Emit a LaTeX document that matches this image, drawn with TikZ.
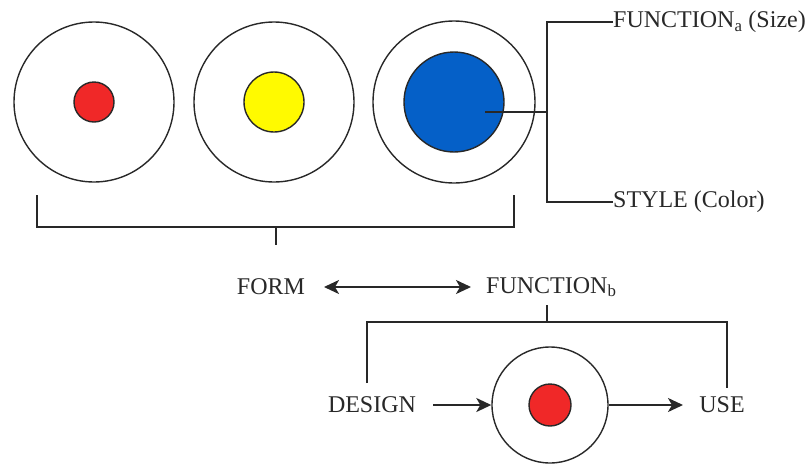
\documentclass[tikz,border=0pt]{standalone}
\usepackage{fontspec}
\setmainfont{Liberation Serif}
\usetikzlibrary{arrows.meta}
\definecolor{cred}{RGB}{240,40,40}
\definecolor{cyellow}{RGB}{255,250,0}
\definecolor{cblue}{RGB}{5,96,200}
\definecolor{cline}{RGB}{40,40,40}
\tikzset{
  outer/.style={circle,draw=cline,line width=1.4pt,fill=white,inner sep=0pt},
  innerdot/.style={circle,draw=cline,line width=1.4pt,inner sep=0pt},
  conn/.style={draw=cline,line width=2pt},
  arr/.style={conn,-{Stealth[length=15pt,width=14pt,inset=4pt]}},
  darr/.style={conn,{Stealth[length=15pt,width=14pt,inset=4pt]}-{Stealth[length=15pt,width=14pt,inset=4pt]}},
  lbl/.style={font=\fontsize{24}{28}\selectfont,inner sep=0pt,text=cline},
}
\begin{document}
\begin{tikzpicture}[x=1pt,y=-1pt]
\useasboundingbox (0,0) rectangle (812,464);
% top circles
\node[outer,minimum size=160pt] (c1) at (94,102) {};
\node[innerdot,fill=cred,minimum size=40pt] (d1) at (94,102) {};
\node[outer,minimum size=160pt] (c2) at (274,102) {};
\node[innerdot,fill=cyellow,minimum size=60pt] (d2) at (274,102) {};
\node[outer,minimum size=162pt] (c3) at (454,102) {};
\node[innerdot,fill=cblue,minimum size=100pt] (d3) at (454,102) {};
% labels right
\node[lbl,anchor=west] (fa) at (613,22) {FUNCTION\textsubscript{a} (Size)};
\node[lbl,anchor=west] (st) at (613,202) {STYLE (Color)};
\coordinate (bc) at (485,112);
\coordinate (jt) at (547,112);
\draw[conn] (bc) -- (jt);
\draw[conn] (fa.west) -| (jt) |- (st.west);
% bracket
\coordinate (bl) at (37,195);
\coordinate (br) at (514,195);
\coordinate (bm) at (276,227);
\draw[conn] (bl) |- (bm) -| (br);
\node[lbl] (form) at (271,287) {FORM};
\node[lbl,anchor=west] (fb) at (486,287) {FUNCTION\textsubscript{b}};
\draw[conn] (bm) -- (276,245);
\draw[darr] (324,287) -- (471,287);
% bottom
\node[lbl] (des) at (372,405) {DESIGN};
\node[lbl] (use) at (722,405) {USE};
\node[outer,minimum size=116pt] (c4) at (550,405) {};
\node[innerdot,fill=cred,minimum size=42pt] (d4) at (550,405) {};
\coordinate (fbs) at (547,305);
\coordinate (ht) at (547,322);
\draw[conn] (fbs) -- (ht);
\draw[conn] (367,383) |- (ht) -| (727,388);
\draw[arr] (433,405) -- (c4.west);
\draw[arr] (c4.east) -- (683,405);
\end{tikzpicture}
\end{document}
